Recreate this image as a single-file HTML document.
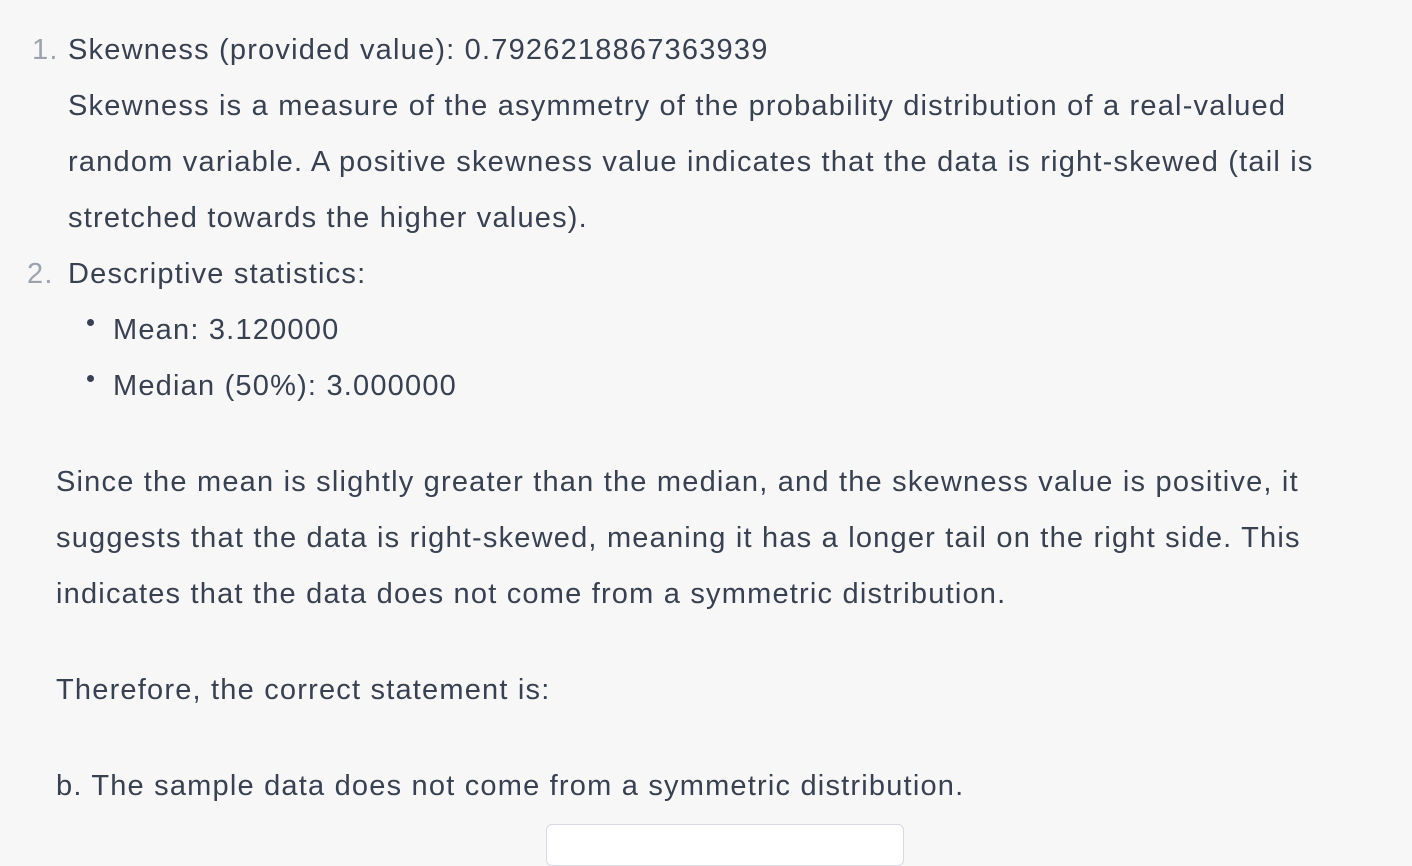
<!DOCTYPE html>
<html><head><meta charset="utf-8"><style>
html,body{margin:0;padding:0;}
body{width:1412px;height:838px;background:#f7f7f8;overflow:hidden;position:relative;font-family:"Liberation Sans",sans-serif;color:#374151;font-size:29px;letter-spacing:1.2px;}
.l{position:absolute;white-space:nowrap;line-height:56px;height:56px;}
.n{color:#9ca3af;}
.dot{position:absolute;width:7px;height:7px;border-radius:50%;background:#374151;}
.box{position:absolute;left:546px;top:824px;width:356px;height:40px;background:#fff;border:1px solid #d9d9e3;border-radius:6px;}
</style></head><body>
<div class="l n" style="left:32px;top:22px;">1.</div>
<div class="l" style="left:68px;top:22px;">Skewness (provided value): 0.7926218867363939</div>
<div class="l" style="left:68px;top:78px;">Skewness is a measure of the asymmetry of the probability distribution of a real-valued</div>
<div class="l" style="left:68px;top:134px;">random variable. A positive skewness value indicates that the data is right-skewed (tail is</div>
<div class="l" style="left:68px;top:190px;">stretched towards the higher values).</div>
<div class="l n" style="left:27px;top:246px;">2.</div>
<div class="l" style="left:68px;top:246px;">Descriptive statistics:</div>
<div class="dot" style="left:87px;top:319px;"></div>
<div class="l" style="left:113px;top:302px;">Mean: 3.120000</div>
<div class="dot" style="left:87px;top:375px;"></div>
<div class="l" style="left:113px;top:358px;">Median (50%): 3.000000</div>
<div class="l" style="left:56px;top:454px;">Since the mean is slightly greater than the median, and the skewness value is positive, it</div>
<div class="l" style="left:56px;top:510px;">suggests that the data is right-skewed, meaning it has a longer tail on the right side. This</div>
<div class="l" style="left:56px;top:566px;">indicates that the data does not come from a symmetric distribution.</div>
<div class="l" style="left:56px;top:662px;">Therefore, the correct statement is:</div>
<div class="l" style="left:56px;top:758px;">b. The sample data does not come from a symmetric distribution.</div>
<div class="box"></div>
</body></html>
